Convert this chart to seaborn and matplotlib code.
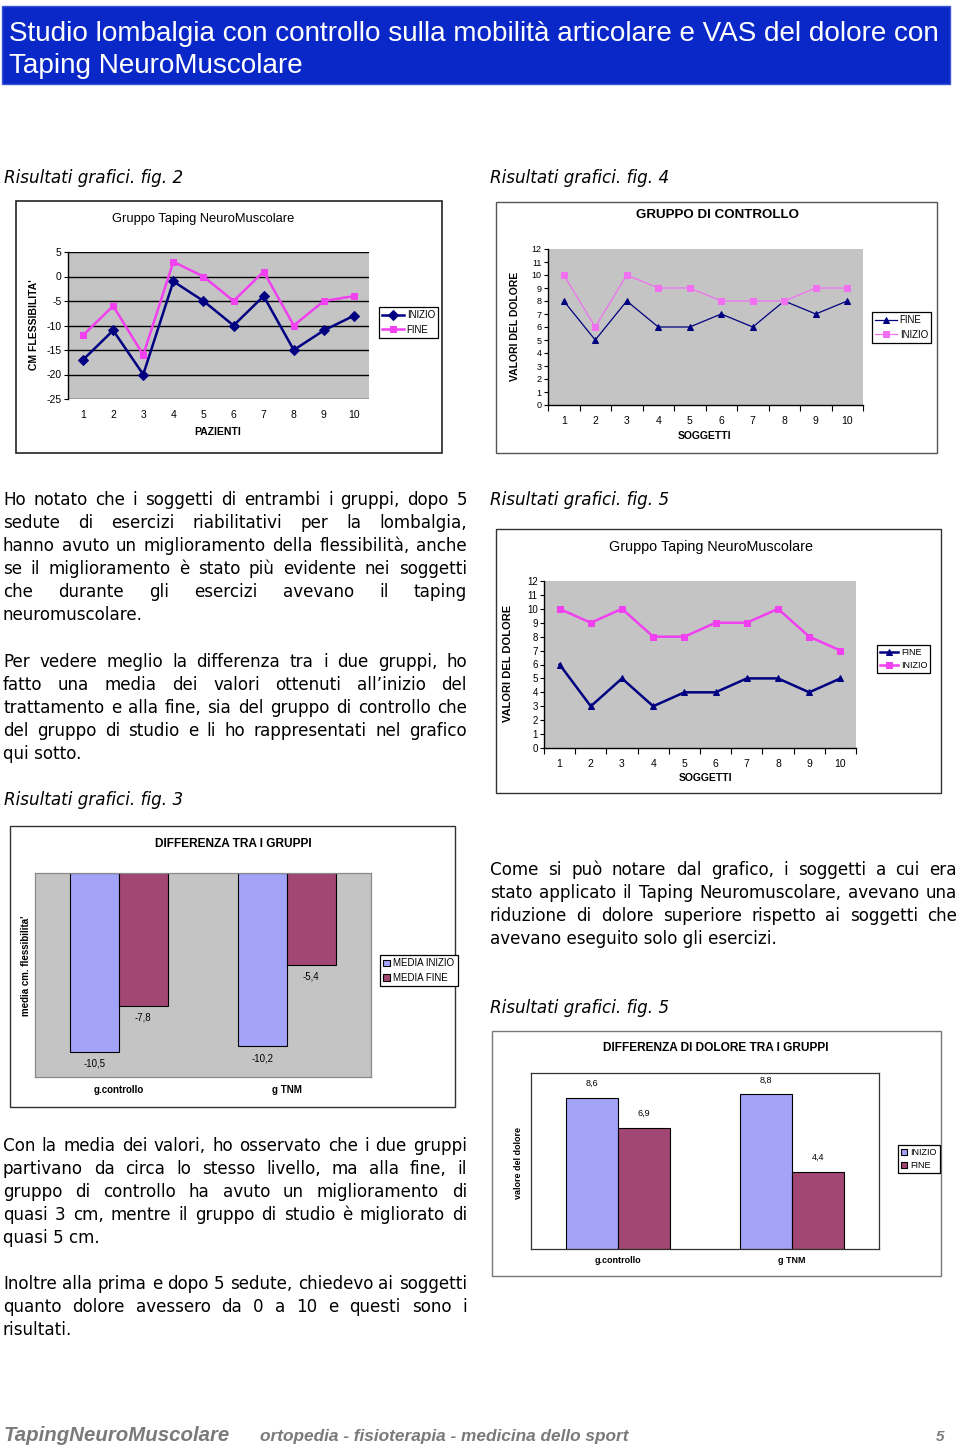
import matplotlib
matplotlib.use("Agg")
import matplotlib.pyplot as plt
from matplotlib.patches import Rectangle
from matplotlib import font_manager
import seaborn as sns
import pandas as pd

# ---------------- DATA ----------------
pazienti = list(range(1, 11))
flex_inizio = [-17, -11, -20, -1, -5, -10, -4, -15, -11, -8]
flex_fine = [-12, -6, -16, 3, 0, -5, 1, -10, -5, -4]

ctrl_dolore_fine = [8, 5, 8, 6, 6, 7, 6, 8, 7, 8]
ctrl_dolore_inizio = [10, 6, 10, 9, 9, 8, 8, 8, 9, 9]

tnm_dolore_fine = [6, 3, 5, 3, 4, 4, 5, 5, 4, 5]
tnm_dolore_inizio = [10, 9, 10, 8, 8, 9, 9, 10, 8, 7]

gruppi = ["g.controllo", "g TNM"]
media_flex_inizio = [-10.5, -10.2]
media_flex_fine = [-7.8, -5.4]
media_dolore_inizio = [8.6, 8.8]
media_dolore_fine = [6.9, 4.4]

yticks_flex = [-25, -20, -15, -10, -5, 0, 5]
yticks_dolore = list(range(0, 13))

# ---------------- SETUP ----------------
W, H = 960, 1447
names = {f.name for f in font_manager.fontManager.ttflist}
SANS = "Liberation Sans" if "Liberation Sans" in names else "DejaVu Sans"
NARROW = "Liberation Sans Narrow" if "Liberation Sans Narrow" in names else SANS
BODY = "DejaVu Sans"
plt.rcParams["font.family"] = [SANS, "DejaVu Sans"]
plt.rcParams["axes.unicode_minus"] = False

fig = plt.figure(figsize=(W / 100, H / 100), dpi=100)
fig.patch.set_facecolor("white")
renderer = fig.canvas.get_renderer()

NAVY = "#000080"
MAGENTA = "#f040f0"
PINK = "#f070f0"
BAR_BLUE = "#a3a3fa"
BAR_RED = "#a24773"
PLOT_GRAY = "#c4c4c4"


def fx(x):
    return x / W


def fy(y):
    return 1 - y / H


def axes_px(x0, y0, x1, y1):
    return fig.add_axes([x0 / W, 1 - y1 / H, (x1 - x0) / W, (y1 - y0) / H])


def add_frame(x0, y0, x1, y1, ec="#333333", lw=1.0):
    fig.add_artist(Rectangle((x0 / W, 1 - y1 / H), (x1 - x0) / W, (y1 - y0) / H,
                             transform=fig.transFigure, facecolor="white",
                             edgecolor=ec, lw=lw, zorder=-1))


def width_of(t):
    return t.get_window_extent(renderer).width


def fit(t, target):
    for _ in range(2):
        t.set_fontsize(t.get_fontsize() * target / width_of(t))
    return t


def ftext(x, y, s, target=None, **kw):
    kw.setdefault("va", "baseline")
    t = fig.text(fx(x), fy(y), s, **kw)
    if target:
        fit(t, target)
    return t


def label_coords(ax, box, xl=None, yl=None):
    x0, y0, x1, y1 = box
    if yl is not None:
        ax.yaxis.set_label_coords((yl[0] - x0) / (x1 - x0), (y1 - yl[1]) / (y1 - y0))
    if xl is not None:
        ax.xaxis.set_label_coords((xl[0] - x0) / (x1 - x0), (y1 - xl[1]) / (y1 - y0))


def place_legend(ax, handles, labels, x, y, fs=7, hl=2.2, **kw):
    leg = ax.legend(handles, labels, loc="upper left", bbox_to_anchor=(fx(x), fy(y)),
                    bbox_transform=fig.transFigure, frameon=True, fancybox=False,
                    edgecolor="black", framealpha=1, fontsize=fs, borderaxespad=0,
                    borderpad=0.35, labelspacing=0.45, handlelength=hl,
                    handletextpad=0.3, **kw)
    leg.get_frame().set_linewidth(0.9)
    return leg


# ---------------- HEADER ----------------
fig.add_artist(Rectangle((fx(2), fy(84)), (950 - 2) / W, (84 - 6) / H,
                         transform=fig.transFigure, facecolor="#0a28c8",
                         edgecolor="#3a55d8", lw=1, zorder=0))
h1 = ftext(9, 41, "Studio lombalgia con controllo sulla mobilità articolare e VAS del dolore con",
           target=929, color="white", family=[NARROW, "DejaVu Sans"], fontsize=18)
ftext(9, 73, "Taping NeuroMuscolare", color="white", family=[NARROW, "DejaVu Sans"],
      fontsize=h1.get_fontsize())

# ---------------- BODY TEXT ----------------
p1 = ["Ho notato che i soggetti di entrambi i gruppi, dopo 5",
      "sedute di esercizi riabilitativi per la lombalgia,",
      "hanno avuto un miglioramento della flessibilità, anche",
      "se il miglioramento è stato più evidente nei soggetti",
      "che durante gli esercizi avevano il taping",
      "neuromuscolare."]
p2 = ["Per vedere meglio la differenza tra i due gruppi, ho",
      "fatto una media dei valori ottenuti all’inizio del",
      "trattamento e alla fine, sia del gruppo di controllo che",
      "del gruppo di studio e li ho rappresentati nel grafico",
      "qui sotto."]
p3 = ["Come si può notare dal grafico, i soggetti a cui era",
      "stato applicato il Taping Neuromuscolare, avevano una",
      "riduzione di dolore superiore rispetto ai soggetti che",
      "avevano eseguito solo gli esercizi."]
p4 = ["Con la media dei valori, ho osservato che i due gruppi",
      "partivano da circa lo stesso livello, ma alla fine, il",
      "gruppo di controllo ha avuto un miglioramento di",
      "quasi 3 cm, mentre il gruppo di studio è migliorato di",
      "quasi 5 cm."]
p5 = ["Inoltre alla prima e dopo 5 sedute, chiedevo ai soggetti",
      "quanto dolore avessero da 0 a 10 e questi sono i",
      "risultati."]
paragraphs = [(3, 467, 505, p1), (3, 467, 667, p2), (490, 957, 875, p3),
              (3, 467, 1151, p4), (3, 467, 1289, p5)]

probe = fig.text(0, 0, "x", fontsize=12, family=BODY)
factor = 10.0
for x0, x1, _, lines in paragraphs:
    for ln in lines:
        probe.set_text(ln)
        factor = min(factor, (x1 - x0) / width_of(probe))
probe.remove()
BODY_SIZE = 12 * factor * 0.995
LINE_H = 23


def justified_line(x0, x1, y, line, size, last):
    if last:
        ftext(x0, y, line, family=BODY, fontsize=size)
        return
    words = line.split()
    ts = [ftext(x0, y, w, family=BODY, fontsize=size) for w in words]
    ws = [width_of(t) for t in ts]
    gap = (x1 - x0 - sum(ws)) / max(len(words) - 1, 1)
    x = x0
    for t, w in zip(ts, ws):
        t.set_x(fx(x))
        x += w + gap


for x0, x1, yb, lines in paragraphs:
    for i, ln in enumerate(lines):
        justified_line(x0, x1, yb + i * LINE_H, ln, BODY_SIZE, i == len(lines) - 1)

# captions
for x, y, s in [(4, 183, "Risultati grafici. fig. 2"), (490, 183, "Risultati grafici. fig. 4"),
                (490, 505, "Risultati grafici. fig. 5"), (4, 805, "Risultati grafici. fig. 3"),
                (490, 1013, "Risultati grafici. fig. 5")]:
    ftext(x, y, s, family=BODY, style="italic", fontsize=BODY_SIZE)

# footer
ftext(4, 1441, "TapingNeuroMuscolare", target=226, family=[NARROW, "DejaVu Sans"],
      style="italic", weight="bold", color="#7a7a7a", fontsize=14)
ftext(260, 1441, "ortopedia - fisioterapia - medicina dello sport", target=368,
      family=[NARROW, "DejaVu Sans"], style="italic", weight="bold", color="#7a7a7a", fontsize=11)
ftext(944, 1441, "5", family=[NARROW, "DejaVu Sans"], style="italic", weight="bold",
      color="#7a7a7a", fontsize=11, ha="right")


# ---------------- LINE CHARTS ----------------
def style_line_axes(ax, ylim, yticks, grid, minor_x, ysize):
    ax.set_facecolor(PLOT_GRAY)
    ax.set_xlim(0.5, 10.5)
    ax.set_ylim(*ylim)
    ax.set_yticks(yticks)
    ax.set_xticks(pazienti)
    for s in ["top", "right"]:
        ax.spines[s].set_visible(False)
    ax.spines["left"].set_color("black")
    ax.spines["left"].set_linewidth(1.0)
    ax.tick_params(axis="y", length=3, width=0.8, pad=1.5, labelsize=ysize, direction="out")
    ax.tick_params(axis="x", which="major", length=0, pad=8, labelsize=7.5)
    if minor_x:
        ax.set_xticks([i + 0.5 for i in range(0, 11)], minor=True)
        ax.tick_params(axis="x", which="minor", length=4, width=0.8, direction="out")
        ax.spines["bottom"].set_color("black")
        ax.spines["bottom"].set_linewidth(1.0)
    else:
        ax.spines["bottom"].set_visible(False)
    if grid:
        ax.yaxis.grid(True, color="black", linewidth=1.0)
        ax.set_axisbelow(True)


# --- fig 2 ---
add_frame(16, 201, 442, 453, ec="#222222", lw=1.2)
box = (68, 252, 369, 399)
ax = axes_px(*box)
sns.lineplot(x=pazienti, y=flex_inizio, ax=ax, color=NAVY, marker="D", markersize=5,
             markeredgecolor=NAVY, linewidth=1.8, label="INIZIO")
sns.lineplot(x=pazienti, y=flex_fine, ax=ax, color=MAGENTA, marker="s", markersize=5,
             markeredgecolor=MAGENTA, linewidth=1.8, label="FINE")
style_line_axes(ax, (-25, 5), yticks_flex, grid=True, minor_x=False, ysize=7.5)
ax.set_ylabel("CM FLESSIBILITA'", fontsize=7.5, weight="bold")
ax.set_xlabel("PAZIENTI", fontsize=7.5, weight="bold")
label_coords(ax, box, xl=(218, 427), yl=(39, 325))
h, l = ax.get_legend_handles_labels()
place_legend(ax, h, l, 379, 307, fs=7)
ftext(203, 222, "Gruppo Taping NeuroMuscolare", target=181, ha="center", fontsize=9)

# --- fig 4 ---
add_frame(496, 202, 937, 453, ec="#555555", lw=1.0)
box = (548, 249, 863, 405)
ax = axes_px(*box)
sns.lineplot(x=pazienti, y=ctrl_dolore_fine, ax=ax, color=NAVY, marker="^", markersize=5,
             markeredgecolor=NAVY, linewidth=0.9, label="FINE")
sns.lineplot(x=pazienti, y=ctrl_dolore_inizio, ax=ax, color=PINK, marker="s", markersize=4,
             markeredgecolor=PINK, linewidth=0.9, label="INIZIO")
style_line_axes(ax, (0, 12), yticks_dolore, grid=False, minor_x=True, ysize=6.5)
ax.set_ylabel("VALORI DEL DOLORE", fontsize=7.5, weight="bold")
ax.set_xlabel("SOGGETTI", fontsize=7.5, weight="bold")
label_coords(ax, box, xl=(704, 431), yl=(520, 326))
h, l = ax.get_legend_handles_labels()
place_legend(ax, h, l, 872, 312, fs=7)
ftext(717, 218, "GRUPPO DI CONTROLLO", target=163, ha="center", weight="bold", fontsize=8)

# --- fig 5 (top) ---
add_frame(496, 529, 941, 793, ec="#333333", lw=1.0)
box = (544, 581, 856, 748)
ax = axes_px(*box)
sns.lineplot(x=pazienti, y=tnm_dolore_fine, ax=ax, color=NAVY, marker="^", markersize=5,
             markeredgecolor=NAVY, linewidth=1.8, label="FINE")
sns.lineplot(x=pazienti, y=tnm_dolore_inizio, ax=ax, color=MAGENTA, marker="s", markersize=5,
             markeredgecolor=MAGENTA, linewidth=1.8, label="INIZIO")
style_line_axes(ax, (0, 12), yticks_dolore, grid=False, minor_x=True, ysize=7)
ax.set_ylabel("VALORI DEL DOLORE", fontsize=8, weight="bold")
ax.set_xlabel("SOGGETTI", fontsize=7.5, weight="bold")
label_coords(ax, box, xl=(705, 773), yl=(513, 663))
h, l = ax.get_legend_handles_labels()
place_legend(ax, h, l, 877, 645, fs=6.5, hl=2.0)
ftext(711, 551, "Gruppo Taping NeuroMuscolare", target=206, ha="center", fontsize=10)


# ---------------- BAR CHARTS ----------------
def fmt(v):
    return f"{v:.1f}".replace(".", ",")


# --- fig 3 ---
add_frame(10, 826, 455, 1107, ec="#333333", lw=1.0)
box = (35, 873, 371, 1077)
ax = axes_px(*box)
df3 = pd.DataFrame({"gruppo": gruppi * 2,
                    "serie": ["MEDIA INIZIO"] * 2 + ["MEDIA FINE"] * 2,
                    "valore": media_flex_inizio + media_flex_fine})
sns.barplot(data=df3, x="gruppo", y="valore", hue="serie", palette=[BAR_BLUE, BAR_RED],
            saturation=1, width=0.58, edgecolor="black", linewidth=0.8, errorbar=None, ax=ax)
ax.set_facecolor(PLOT_GRAY)
ax.set_ylim(-12, 0)
ax.set_yticks([])
for s in ax.spines.values():
    s.set_color("#8a8a8a")
    s.set_linewidth(0.9)
ax.tick_params(axis="x", length=0, pad=6)
for t in ax.get_xticklabels():
    t.set_fontsize(7)
    t.set_fontweight("bold")
    t.set_fontfamily([NARROW, "DejaVu Sans"])
for c in ax.containers:
    ax.bar_label(c, labels=[fmt(v) for v in c.datavalues], padding=5, fontsize=7,
                 family=[NARROW, "DejaVu Sans"])
ax.set_xlabel("")
ax.set_ylabel("media cm. flessibilita'", fontsize=7, weight="bold")
label_coords(ax, box, yl=(31, 966))
h, l = ax.get_legend_handles_labels()
place_legend(ax, h, l, 380, 955, fs=7, hl=0.7, handleheight=0.7)
ftext(233, 847, "DIFFERENZA TRA I GRUPPI", target=157, ha="center", weight="bold",
      family=[NARROW, "DejaVu Sans"], fontsize=9)

# --- fig 5 (bottom) ---
add_frame(492, 1031, 941, 1276, ec="#777777", lw=1.0)
box = (531, 1073, 879, 1249)
ax = axes_px(*box)
df5 = pd.DataFrame({"gruppo": gruppi * 2,
                    "serie": ["INIZIO"] * 2 + ["FINE"] * 2,
                    "valore": media_dolore_inizio + media_dolore_fine})
sns.barplot(data=df5, x="gruppo", y="valore", hue="serie", palette=[BAR_BLUE, BAR_RED],
            saturation=1, width=0.6, edgecolor="black", linewidth=0.8, errorbar=None, ax=ax)
ax.set_facecolor("white")
ax.set_ylim(0, 10)
ax.set_yticks([])
for s in ax.spines.values():
    s.set_color("#333333")
    s.set_linewidth(0.9)
ax.tick_params(axis="x", length=0, pad=5)
for t in ax.get_xticklabels():
    t.set_fontsize(6.5)
    t.set_fontweight("bold")
    t.set_fontfamily([NARROW, "DejaVu Sans"])
for c in ax.containers:
    ax.bar_label(c, labels=[fmt(v) for v in c.datavalues], padding=7, fontsize=6.5,
                 family=[NARROW, "DejaVu Sans"])
ax.set_xlabel("")
ax.set_ylabel("valore del dolore", fontsize=6.5, weight="bold")
label_coords(ax, box, yl=(523, 1163))
h, l = ax.get_legend_handles_labels()
place_legend(ax, h, l, 898, 1145, fs=6.5, hl=0.7, handleheight=0.7)
ftext(716, 1051, "DIFFERENZA DI DOLORE TRA I GRUPPI", target=226, ha="center", weight="bold",
      family=[NARROW, "DejaVu Sans"], fontsize=8)

fig.savefig("out.png", dpi=100, facecolor="white")
